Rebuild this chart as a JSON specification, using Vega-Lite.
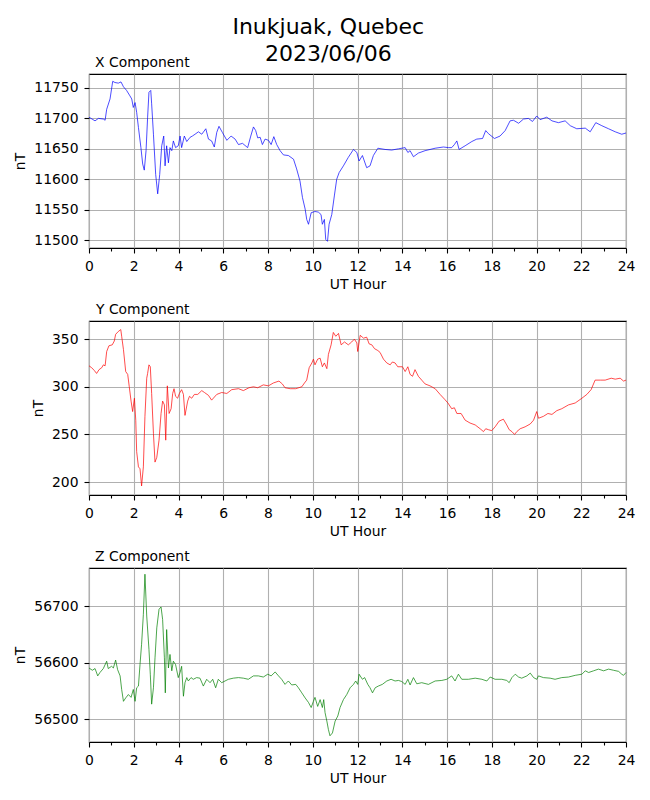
{
  "$schema": "https://vega.github.io/schema/vega-lite/v6.json",
  "padding": {"left": 13, "top": 15, "right": 10, "bottom": 5},
  "background": "white",
  "title": {
    "text": ["Inukjuak, Quebec", "2023/06/06"],
    "fontSize": 22,
    "fontWeight": "normal",
    "font": "DejaVu Sans",
    "color": "black",
    "anchor": "middle",
    "lineHeight": 27,
    "offset": -10,
    "dx": 4
  },
  "datasets": {
    "xcomp": [
      {"h": 0, "v": 11702}, {"h": 0.27, "v": 11696}, {"h": 0.42, "v": 11700}, {"h": 0.64, "v": 11699}, {"h": 0.72, "v": 11697},
      {"h": 0.79, "v": 11715}, {"h": 0.94, "v": 11732}, {"h": 1.06, "v": 11761}, {"h": 1.16, "v": 11759}, {"h": 1.31, "v": 11758},
      {"h": 1.43, "v": 11760}, {"h": 1.54, "v": 11752}, {"h": 1.68, "v": 11746}, {"h": 1.83, "v": 11737}, {"h": 1.91, "v": 11732},
      {"h": 1.98, "v": 11718}, {"h": 2.06, "v": 11726}, {"h": 2.13, "v": 11710}, {"h": 2.21, "v": 11685}, {"h": 2.32, "v": 11652},
      {"h": 2.4, "v": 11625}, {"h": 2.47, "v": 11615}, {"h": 2.55, "v": 11647}, {"h": 2.62, "v": 11702}, {"h": 2.68, "v": 11743},
      {"h": 2.76, "v": 11746}, {"h": 2.8, "v": 11724}, {"h": 2.88, "v": 11674}, {"h": 2.98, "v": 11608}, {"h": 3.07, "v": 11576},
      {"h": 3.16, "v": 11608}, {"h": 3.25, "v": 11655}, {"h": 3.34, "v": 11671}, {"h": 3.4, "v": 11622}, {"h": 3.47, "v": 11655},
      {"h": 3.55, "v": 11627}, {"h": 3.62, "v": 11652}, {"h": 3.7, "v": 11647}, {"h": 3.77, "v": 11663}, {"h": 3.87, "v": 11652},
      {"h": 3.99, "v": 11655}, {"h": 4.07, "v": 11671}, {"h": 4.14, "v": 11652}, {"h": 4.26, "v": 11671}, {"h": 4.37, "v": 11662},
      {"h": 4.52, "v": 11669}, {"h": 4.62, "v": 11671}, {"h": 4.74, "v": 11674}, {"h": 4.89, "v": 11678}, {"h": 5.04, "v": 11674},
      {"h": 5.22, "v": 11683}, {"h": 5.34, "v": 11666}, {"h": 5.48, "v": 11663}, {"h": 5.6, "v": 11653}, {"h": 5.71, "v": 11677},
      {"h": 5.81, "v": 11687}, {"h": 5.96, "v": 11677}, {"h": 6.16, "v": 11664}, {"h": 6.35, "v": 11671}, {"h": 6.53, "v": 11666},
      {"h": 6.68, "v": 11657}, {"h": 6.86, "v": 11659}, {"h": 7.09, "v": 11652}, {"h": 7.23, "v": 11671}, {"h": 7.35, "v": 11686},
      {"h": 7.45, "v": 11680}, {"h": 7.54, "v": 11668}, {"h": 7.65, "v": 11669}, {"h": 7.75, "v": 11657}, {"h": 7.87, "v": 11666},
      {"h": 8.02, "v": 11664}, {"h": 8.14, "v": 11657}, {"h": 8.26, "v": 11670}, {"h": 8.39, "v": 11657}, {"h": 8.54, "v": 11647},
      {"h": 8.69, "v": 11640}, {"h": 8.91, "v": 11639}, {"h": 9.14, "v": 11633}, {"h": 9.28, "v": 11617}, {"h": 9.43, "v": 11597},
      {"h": 9.54, "v": 11570}, {"h": 9.66, "v": 11551}, {"h": 9.73, "v": 11534}, {"h": 9.81, "v": 11526}, {"h": 9.93, "v": 11545},
      {"h": 10.1, "v": 11547}, {"h": 10.25, "v": 11546}, {"h": 10.37, "v": 11542}, {"h": 10.43, "v": 11526}, {"h": 10.52, "v": 11534},
      {"h": 10.58, "v": 11501}, {"h": 10.66, "v": 11498}, {"h": 10.73, "v": 11526}, {"h": 10.85, "v": 11542}, {"h": 10.97, "v": 11574},
      {"h": 11.07, "v": 11600}, {"h": 11.18, "v": 11611}, {"h": 11.37, "v": 11622}, {"h": 11.59, "v": 11636}, {"h": 11.82, "v": 11649},
      {"h": 11.97, "v": 11644}, {"h": 12.07, "v": 11630}, {"h": 12.22, "v": 11639}, {"h": 12.41, "v": 11619}, {"h": 12.56, "v": 11622},
      {"h": 12.71, "v": 11639}, {"h": 12.91, "v": 11651}, {"h": 13.23, "v": 11649}, {"h": 13.53, "v": 11648}, {"h": 13.83, "v": 11650},
      {"h": 14.13, "v": 11652}, {"h": 14.25, "v": 11644}, {"h": 14.35, "v": 11647}, {"h": 14.5, "v": 11637}, {"h": 14.72, "v": 11643},
      {"h": 15.02, "v": 11647}, {"h": 15.47, "v": 11651}, {"h": 15.84, "v": 11653}, {"h": 16.06, "v": 11652}, {"h": 16.21, "v": 11652},
      {"h": 16.33, "v": 11657}, {"h": 16.44, "v": 11663}, {"h": 16.54, "v": 11649}, {"h": 16.81, "v": 11655}, {"h": 17.11, "v": 11662},
      {"h": 17.33, "v": 11666}, {"h": 17.59, "v": 11667}, {"h": 17.73, "v": 11680}, {"h": 17.85, "v": 11675}, {"h": 18.12, "v": 11667},
      {"h": 18.37, "v": 11671}, {"h": 18.6, "v": 11680}, {"h": 18.82, "v": 11696}, {"h": 18.97, "v": 11697}, {"h": 19.2, "v": 11692},
      {"h": 19.42, "v": 11699}, {"h": 19.64, "v": 11700}, {"h": 19.82, "v": 11695}, {"h": 20.01, "v": 11704}, {"h": 20.16, "v": 11698},
      {"h": 20.46, "v": 11702}, {"h": 20.69, "v": 11696}, {"h": 20.98, "v": 11693}, {"h": 21.28, "v": 11696}, {"h": 21.51, "v": 11688},
      {"h": 21.8, "v": 11683}, {"h": 22.18, "v": 11684}, {"h": 22.4, "v": 11678}, {"h": 22.65, "v": 11693}, {"h": 22.92, "v": 11688},
      {"h": 23.22, "v": 11683}, {"h": 23.52, "v": 11678}, {"h": 23.81, "v": 11674}, {"h": 24, "v": 11676}
    ],
    "ycomp": [
      {"h": 0, "v": 322}, {"h": 0.12, "v": 320}, {"h": 0.24, "v": 317}, {"h": 0.34, "v": 314}, {"h": 0.45, "v": 318},
      {"h": 0.57, "v": 320}, {"h": 0.64, "v": 323}, {"h": 0.72, "v": 322}, {"h": 0.79, "v": 337}, {"h": 0.89, "v": 343},
      {"h": 1.04, "v": 344}, {"h": 1.13, "v": 348}, {"h": 1.19, "v": 355}, {"h": 1.31, "v": 358}, {"h": 1.42, "v": 360},
      {"h": 1.46, "v": 353}, {"h": 1.54, "v": 339}, {"h": 1.64, "v": 316}, {"h": 1.73, "v": 313}, {"h": 1.8, "v": 300},
      {"h": 1.88, "v": 285}, {"h": 1.95, "v": 274}, {"h": 2.03, "v": 288}, {"h": 2.09, "v": 265}, {"h": 2.13, "v": 232},
      {"h": 2.21, "v": 216}, {"h": 2.28, "v": 214}, {"h": 2.35, "v": 196}, {"h": 2.43, "v": 216}, {"h": 2.5, "v": 269},
      {"h": 2.58, "v": 309}, {"h": 2.62, "v": 314}, {"h": 2.68, "v": 323}, {"h": 2.74, "v": 321}, {"h": 2.8, "v": 293},
      {"h": 2.88, "v": 251}, {"h": 2.95, "v": 221}, {"h": 3.03, "v": 226}, {"h": 3.13, "v": 244}, {"h": 3.22, "v": 272},
      {"h": 3.29, "v": 285}, {"h": 3.37, "v": 281}, {"h": 3.43, "v": 244}, {"h": 3.5, "v": 301}, {"h": 3.58, "v": 272},
      {"h": 3.67, "v": 277}, {"h": 3.74, "v": 293}, {"h": 3.8, "v": 298}, {"h": 3.87, "v": 290}, {"h": 3.96, "v": 288},
      {"h": 4.04, "v": 293}, {"h": 4.14, "v": 297}, {"h": 4.22, "v": 292}, {"h": 4.29, "v": 270}, {"h": 4.41, "v": 285},
      {"h": 4.49, "v": 290}, {"h": 4.59, "v": 288}, {"h": 4.71, "v": 292}, {"h": 4.86, "v": 292}, {"h": 5.04, "v": 296},
      {"h": 5.16, "v": 294}, {"h": 5.34, "v": 291}, {"h": 5.48, "v": 286}, {"h": 5.71, "v": 292}, {"h": 5.93, "v": 294},
      {"h": 6.16, "v": 293}, {"h": 6.38, "v": 297}, {"h": 6.68, "v": 298}, {"h": 6.9, "v": 296}, {"h": 7.15, "v": 299},
      {"h": 7.35, "v": 300}, {"h": 7.54, "v": 299}, {"h": 7.79, "v": 302}, {"h": 8.02, "v": 301}, {"h": 8.24, "v": 304},
      {"h": 8.49, "v": 306}, {"h": 8.64, "v": 303}, {"h": 8.76, "v": 299}, {"h": 8.99, "v": 298}, {"h": 9.24, "v": 298},
      {"h": 9.51, "v": 300}, {"h": 9.63, "v": 304}, {"h": 9.73, "v": 307}, {"h": 9.84, "v": 320}, {"h": 9.96, "v": 325},
      {"h": 10.03, "v": 329}, {"h": 10.1, "v": 323}, {"h": 10.22, "v": 329}, {"h": 10.33, "v": 330}, {"h": 10.43, "v": 321},
      {"h": 10.52, "v": 325}, {"h": 10.63, "v": 319}, {"h": 10.7, "v": 334}, {"h": 10.82, "v": 344}, {"h": 10.92, "v": 357},
      {"h": 11.03, "v": 353}, {"h": 11.15, "v": 356}, {"h": 11.27, "v": 344}, {"h": 11.42, "v": 347}, {"h": 11.59, "v": 344},
      {"h": 11.74, "v": 347}, {"h": 11.86, "v": 350}, {"h": 11.97, "v": 346}, {"h": 12.01, "v": 337}, {"h": 12.12, "v": 354},
      {"h": 12.27, "v": 351}, {"h": 12.41, "v": 352}, {"h": 12.52, "v": 345}, {"h": 12.64, "v": 344}, {"h": 12.76, "v": 340},
      {"h": 12.91, "v": 338}, {"h": 13.01, "v": 336}, {"h": 13.16, "v": 329}, {"h": 13.31, "v": 325}, {"h": 13.46, "v": 323},
      {"h": 13.56, "v": 326}, {"h": 13.68, "v": 325}, {"h": 13.8, "v": 321}, {"h": 14.01, "v": 321}, {"h": 14.13, "v": 316},
      {"h": 14.25, "v": 321}, {"h": 14.35, "v": 313}, {"h": 14.46, "v": 311}, {"h": 14.57, "v": 318}, {"h": 14.72, "v": 311},
      {"h": 14.87, "v": 307}, {"h": 15.02, "v": 303}, {"h": 15.24, "v": 301}, {"h": 15.47, "v": 298}, {"h": 15.69, "v": 292},
      {"h": 15.89, "v": 287}, {"h": 16.04, "v": 283}, {"h": 16.21, "v": 277}, {"h": 16.33, "v": 278}, {"h": 16.44, "v": 272},
      {"h": 16.63, "v": 272}, {"h": 16.81, "v": 265}, {"h": 17.03, "v": 262}, {"h": 17.26, "v": 260}, {"h": 17.48, "v": 256},
      {"h": 17.63, "v": 253}, {"h": 17.73, "v": 256}, {"h": 17.85, "v": 255}, {"h": 18.0, "v": 254}, {"h": 18.15, "v": 258},
      {"h": 18.33, "v": 264}, {"h": 18.52, "v": 266}, {"h": 18.67, "v": 260}, {"h": 18.78, "v": 255}, {"h": 18.9, "v": 253},
      {"h": 19.02, "v": 250}, {"h": 19.12, "v": 253}, {"h": 19.27, "v": 256}, {"h": 19.49, "v": 258}, {"h": 19.72, "v": 261},
      {"h": 19.87, "v": 265}, {"h": 20.01, "v": 274}, {"h": 20.09, "v": 267}, {"h": 20.31, "v": 269}, {"h": 20.51, "v": 272},
      {"h": 20.69, "v": 271}, {"h": 20.91, "v": 275}, {"h": 21.13, "v": 277}, {"h": 21.43, "v": 281}, {"h": 21.73, "v": 283},
      {"h": 22.03, "v": 288}, {"h": 22.25, "v": 292}, {"h": 22.44, "v": 297}, {"h": 22.62, "v": 307}, {"h": 22.85, "v": 307},
      {"h": 23.07, "v": 307}, {"h": 23.34, "v": 309}, {"h": 23.52, "v": 308}, {"h": 23.74, "v": 309}, {"h": 23.89, "v": 306},
      {"h": 24, "v": 307}
    ],
    "zcomp": [
      {"h": 0, "v": 56591}, {"h": 0.15, "v": 56587}, {"h": 0.27, "v": 56590}, {"h": 0.39, "v": 56577}, {"h": 0.49, "v": 56583},
      {"h": 0.64, "v": 56590}, {"h": 0.79, "v": 56603}, {"h": 0.86, "v": 56590}, {"h": 1.01, "v": 56594}, {"h": 1.09, "v": 56591},
      {"h": 1.19, "v": 56605}, {"h": 1.28, "v": 56588}, {"h": 1.39, "v": 56577}, {"h": 1.46, "v": 56553}, {"h": 1.54, "v": 56532},
      {"h": 1.64, "v": 56538}, {"h": 1.76, "v": 56544}, {"h": 1.88, "v": 56539}, {"h": 1.98, "v": 56553}, {"h": 2.06, "v": 56532},
      {"h": 2.13, "v": 56556}, {"h": 2.21, "v": 56559}, {"h": 2.28, "v": 56597}, {"h": 2.35, "v": 56633}, {"h": 2.43, "v": 56686},
      {"h": 2.5, "v": 56757}, {"h": 2.58, "v": 56683}, {"h": 2.68, "v": 56624}, {"h": 2.74, "v": 56580}, {"h": 2.8, "v": 56527},
      {"h": 2.88, "v": 56556}, {"h": 2.95, "v": 56609}, {"h": 3.03, "v": 56662}, {"h": 3.13, "v": 56695}, {"h": 3.22, "v": 56699},
      {"h": 3.29, "v": 56677}, {"h": 3.37, "v": 56609}, {"h": 3.41, "v": 56547}, {"h": 3.47, "v": 56659}, {"h": 3.55, "v": 56591},
      {"h": 3.62, "v": 56615}, {"h": 3.7, "v": 56586}, {"h": 3.77, "v": 56603}, {"h": 3.87, "v": 56597}, {"h": 3.99, "v": 56574},
      {"h": 4.07, "v": 56583}, {"h": 4.14, "v": 56594}, {"h": 4.22, "v": 56541}, {"h": 4.29, "v": 56565}, {"h": 4.37, "v": 56574},
      {"h": 4.44, "v": 56568}, {"h": 4.56, "v": 56574}, {"h": 4.66, "v": 56571}, {"h": 4.81, "v": 56574}, {"h": 4.96, "v": 56573},
      {"h": 5.11, "v": 56559}, {"h": 5.26, "v": 56571}, {"h": 5.41, "v": 56565}, {"h": 5.53, "v": 56571}, {"h": 5.66, "v": 56556},
      {"h": 5.78, "v": 56571}, {"h": 5.93, "v": 56565}, {"h": 6.08, "v": 56568}, {"h": 6.23, "v": 56571}, {"h": 6.45, "v": 56573},
      {"h": 6.68, "v": 56574}, {"h": 6.9, "v": 56573}, {"h": 7.12, "v": 56571}, {"h": 7.35, "v": 56577}, {"h": 7.57, "v": 56577},
      {"h": 7.79, "v": 56575}, {"h": 7.99, "v": 56580}, {"h": 8.14, "v": 56577}, {"h": 8.32, "v": 56584}, {"h": 8.47, "v": 56577},
      {"h": 8.61, "v": 56571}, {"h": 8.76, "v": 56562}, {"h": 8.91, "v": 56568}, {"h": 9.06, "v": 56561}, {"h": 9.24, "v": 56562},
      {"h": 9.36, "v": 56556}, {"h": 9.51, "v": 56547}, {"h": 9.66, "v": 56538}, {"h": 9.81, "v": 56530}, {"h": 9.93, "v": 56521},
      {"h": 10.03, "v": 56532}, {"h": 10.1, "v": 56539}, {"h": 10.22, "v": 56523}, {"h": 10.33, "v": 56535}, {"h": 10.43, "v": 56521},
      {"h": 10.49, "v": 56535}, {"h": 10.55, "v": 56512}, {"h": 10.63, "v": 56497}, {"h": 10.7, "v": 56482}, {"h": 10.77, "v": 56471},
      {"h": 10.88, "v": 56476}, {"h": 11.0, "v": 56497}, {"h": 11.12, "v": 56506}, {"h": 11.22, "v": 56521}, {"h": 11.37, "v": 56535},
      {"h": 11.52, "v": 56544}, {"h": 11.67, "v": 56556}, {"h": 11.82, "v": 56562}, {"h": 11.92, "v": 56568}, {"h": 12.01, "v": 56562},
      {"h": 12.07, "v": 56580}, {"h": 12.22, "v": 56571}, {"h": 12.32, "v": 56574}, {"h": 12.46, "v": 56562}, {"h": 12.56, "v": 56556},
      {"h": 12.67, "v": 56547}, {"h": 12.79, "v": 56556}, {"h": 12.93, "v": 56559}, {"h": 13.11, "v": 56562}, {"h": 13.31, "v": 56568},
      {"h": 13.5, "v": 56571}, {"h": 13.68, "v": 56568}, {"h": 13.83, "v": 56569}, {"h": 13.98, "v": 56567}, {"h": 14.13, "v": 56562},
      {"h": 14.25, "v": 56571}, {"h": 14.35, "v": 56561}, {"h": 14.5, "v": 56574}, {"h": 14.65, "v": 56563}, {"h": 14.87, "v": 56565},
      {"h": 15.17, "v": 56562}, {"h": 15.47, "v": 56568}, {"h": 15.77, "v": 56569}, {"h": 15.99, "v": 56571}, {"h": 16.21, "v": 56577},
      {"h": 16.36, "v": 56568}, {"h": 16.51, "v": 56580}, {"h": 16.66, "v": 56571}, {"h": 16.96, "v": 56571}, {"h": 17.26, "v": 56573},
      {"h": 17.56, "v": 56571}, {"h": 17.78, "v": 56568}, {"h": 17.93, "v": 56575}, {"h": 18.15, "v": 56571}, {"h": 18.45, "v": 56571},
      {"h": 18.67, "v": 56569}, {"h": 18.78, "v": 56565}, {"h": 18.9, "v": 56574}, {"h": 19.05, "v": 56580}, {"h": 19.2, "v": 56575},
      {"h": 19.34, "v": 56573}, {"h": 19.57, "v": 56577}, {"h": 19.72, "v": 56582}, {"h": 19.87, "v": 56574}, {"h": 20.01, "v": 56571},
      {"h": 20.09, "v": 56577}, {"h": 20.31, "v": 56574}, {"h": 20.61, "v": 56573}, {"h": 20.83, "v": 56571}, {"h": 21.13, "v": 56574},
      {"h": 21.43, "v": 56575}, {"h": 21.73, "v": 56578}, {"h": 22.03, "v": 56580}, {"h": 22.18, "v": 56586}, {"h": 22.33, "v": 56583},
      {"h": 22.55, "v": 56586}, {"h": 22.77, "v": 56589}, {"h": 23.0, "v": 56586}, {"h": 23.22, "v": 56589}, {"h": 23.44, "v": 56587},
      {"h": 23.67, "v": 56585}, {"h": 23.81, "v": 56580}, {"h": 23.89, "v": 56578}, {"h": 24, "v": 56583}
    ]
  },
  "spacing": 9,
  "vconcat": [
    {
      "width": 537,
      "height": 174,
      "title": {"text": "X Component", "anchor": "start", "frame": "group", "dx": 6},
      "data": {"name": "xcomp"},
      "mark": {"type": "line", "color": "#0000ff", "strokeWidth": 0.7},
      "encoding": {
        "x": {"field": "h", "type": "quantitative", "title": "UT Hour", "scale": {"domain": [0, 24], "nice": false},
              "axis": {
                "values": [0, 1, 2, 3, 4, 5, 6, 7, 8, 9, 10, 11, 12, 13, 14, 15, 16, 17, 18, 19, 20, 21, 22, 23, 24],
                "labelExpr": "datum.value % 2 === 0 ? datum.label : ''",
                "tickSize": {"condition": {"test": "datum.value % 2 === 0", "value": 5}, "value": 3},
                "gridOpacity": {"condition": {"test": "datum.value % 2 === 0", "value": 1}, "value": 0}
              }},
        "y": {"field": "v", "type": "quantitative", "title": "nT", "scale": {"domain": [11487, 11773], "nice": false, "zero": false},
              "axis": {"values": [11500, 11550, 11600, 11650, 11700, 11750], "format": "d"}}
      }
    },
    {
      "width": 537,
      "height": 174,
      "title": {"text": "Y Component", "anchor": "start", "frame": "group", "dx": 7},
      "data": {"name": "ycomp"},
      "mark": {"type": "line", "color": "#ff0000", "strokeWidth": 0.7},
      "encoding": {
        "x": {"field": "h", "type": "quantitative", "title": "UT Hour", "scale": {"domain": [0, 24], "nice": false},
              "axis": {
                "values": [0, 1, 2, 3, 4, 5, 6, 7, 8, 9, 10, 11, 12, 13, 14, 15, 16, 17, 18, 19, 20, 21, 22, 23, 24],
                "labelExpr": "datum.value % 2 === 0 ? datum.label : ''",
                "tickSize": {"condition": {"test": "datum.value % 2 === 0", "value": 5}, "value": 3},
                "gridOpacity": {"condition": {"test": "datum.value % 2 === 0", "value": 1}, "value": 0}
              }},
        "y": {"field": "v", "type": "quantitative", "title": "nT", "scale": {"domain": [186.5, 369], "nice": false, "zero": false},
              "axis": {"values": [200, 250, 300, 350], "format": "d"}}
      }
    },
    {
      "width": 537,
      "height": 174,
      "title": {"text": "Z Component", "anchor": "start", "frame": "group", "dx": 6},
      "data": {"name": "zcomp"},
      "mark": {"type": "line", "color": "#008000", "strokeWidth": 0.7},
      "encoding": {
        "x": {"field": "h", "type": "quantitative", "title": "UT Hour", "scale": {"domain": [0, 24], "nice": false},
              "axis": {
                "values": [0, 1, 2, 3, 4, 5, 6, 7, 8, 9, 10, 11, 12, 13, 14, 15, 16, 17, 18, 19, 20, 21, 22, 23, 24],
                "labelExpr": "datum.value % 2 === 0 ? datum.label : ''",
                "tickSize": {"condition": {"test": "datum.value % 2 === 0", "value": 5}, "value": 3},
                "gridOpacity": {"condition": {"test": "datum.value % 2 === 0", "value": 1}, "value": 0}
              }},
        "y": {"field": "v", "type": "quantitative", "title": "nT", "scale": {"domain": [56460, 56768], "nice": false, "zero": false},
              "axis": {"values": [56500, 56600, 56700], "format": "d"}}
      }
    }
  ],
  "config": {
    "font": "DejaVu Sans",
    "view": {"stroke": "black", "strokeWidth": 1.1},
    "title": {"fontSize": 13.9, "fontWeight": "normal", "color": "black", "offset": 4},
    "axis": {
      "labelFont": "DejaVu Sans",
      "labelFontSize": 13.9,
      "labelColor": "black",
      "titleFont": "DejaVu Sans",
      "titleFontSize": 13.9,
      "titleFontWeight": "normal",
      "titleColor": "black",
      "tickColor": "black",
      "tickWidth": 1.1,
      "tickSize": 5,
      "domain": false,
      "grid": true,
      "gridColor": "#b0b0b0",
      "gridWidth": 1.1,
      "labelOverlap": false,
      "labelFlush": false
    },
    "axisX": {"labelPadding": 6, "titlePadding": 5},
    "axisY": {"labelPadding": 6, "titlePadding": 6}
  }
}
